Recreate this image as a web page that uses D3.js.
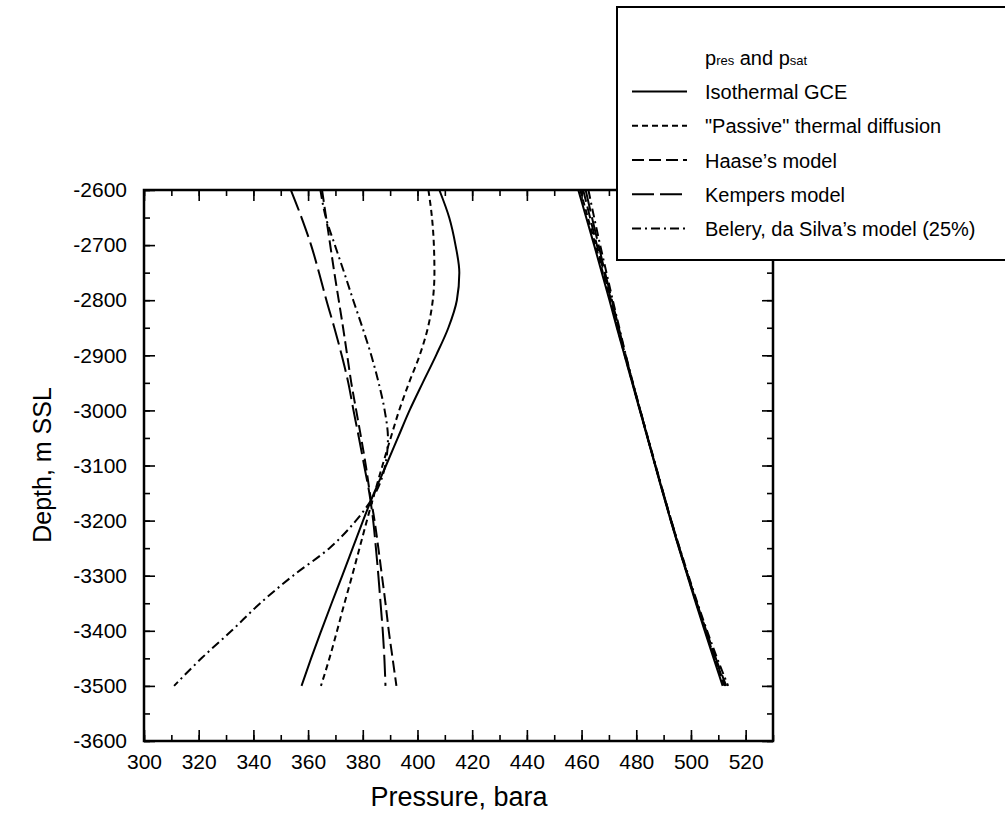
<!DOCTYPE html>
<html>
<head>
<meta charset="utf-8">
<script src="https://cdn.jsdelivr.net/npm/d3@7"></script>
<style>
  html, body { margin: 0; padding: 0; background: #fff; }
  svg { display: block; font-family: "Liberation Sans", Arial, Helvetica, sans-serif; }
</style>
</head>
<body>
<svg id="chart" width="1005" height="838"></svg>
<script>
// Depth levels (m SSL) shared by every profile
const depths = [-2600, -2650, -2700, -2750, -2800, -2850, -2900, -2950, -3000, -3050,
                -3100, -3150, -3200, -3250, -3300, -3350, -3400, -3450, -3500];

// Reservoir pressure profiles, bara
const presIsothermal = [408, 411.6, 413.9, 415.3, 414.4, 411.3, 406.8, 401.9, 397.1, 392.8,
                        388.5, 384.1, 380.1, 376.3, 372.5, 368.6, 364.8, 361.1, 357.6];
const presPassive    = [404, 405.3, 406, 406.2, 405.6, 403.8, 400.8, 396.9, 393.3, 390.2,
                        387.2, 384.3, 381.5, 378.8, 376.1, 373.3, 370.6, 367.8, 364.7];
const presHaase      = [365.1, 366.6, 368.1, 369.6, 371.2, 372.8, 374.3, 375.8, 377.6, 379.4,
                        381.1, 382.6, 384.3, 385.7, 387, 388.3, 389.5, 390.9, 392.3];
const presKempers    = [353.7, 357.6, 361.1, 364, 366.7, 369.6, 372.3, 374.7, 376.6, 378.6,
                        380.5, 382.4, 383.8, 384.8, 385.7, 386.5, 387.3, 387.9, 388.3];
const presBelery     = [364.5, 366.5, 369.8, 373.2, 376.5, 379.9, 383.1, 385.8, 388, 389.2,
                        388.2, 384.6, 377.5, 367.8, 354.5, 342.5, 332, 321, 311];

// Saturation pressure profiles, bara
const psatIsothermal = [458.8, 461.7, 464.6, 467.4, 470.2, 472.9, 475.7, 478.5, 481.3, 484.1,
                        486.9, 489.7, 492.6, 495.6, 498.7, 501.8, 505, 508.3, 511.6];
const psatPassive    = [459.5, 462.3, 465.1, 467.8, 470.5, 473.1, 475.8, 478.6, 481.4, 484.2,
                        487, 489.8, 492.7, 495.7, 498.8, 502, 505.3, 508.7, 512.2];
const psatHaase      = [460.6, 463.1, 465.6, 468.2, 470.8, 473.4, 476, 478.7, 481.4, 484.2,
                        487, 489.8, 492.7, 495.7, 498.9, 502.1, 505.4, 508.9, 512.5];
const psatKempers    = [461.5, 463.8, 466.2, 468.6, 471.1, 473.6, 476.1, 478.7, 481.5, 484.2,
                        487, 489.9, 492.8, 495.8, 498.9, 502.2, 505.6, 509.1, 512.9];
const psatBelery     = [462.5, 464.6, 466.8, 469.1, 471.4, 473.8, 476.2, 478.8, 481.5, 484.3,
                        487.1, 489.9, 492.8, 495.9, 499.1, 502.4, 505.9, 509.6, 513.6];

// Model names and tick values
const modelNames = ["Isothermal GCE", "\"Passive\" thermal diffusion", "Haase\u2019s model",
                    "Kempers model", "Belery, da Silva\u2019s model (25%)"];
const xMajorTicks = [300, 320, 340, 360, 380, 400, 420, 440, 460, 480, 500, 520];
const yMajorTicks = [-3600, -3500, -3400, -3300, -3200, -3100, -3000, -2900, -2800, -2700, -2600];

const models = [
  { name: modelNames[0], pres: presIsothermal, psat: psatIsothermal, dash: null },
  { name: modelNames[1], pres: presPassive,    psat: psatPassive,    dash: "6,4" },
  { name: modelNames[2], pres: presHaase,      psat: psatHaase,      dash: "12,5" },
  { name: modelNames[3], pres: presKempers,    psat: psatKempers,    dash: "22,6" },
  { name: modelNames[4], pres: presBelery,     psat: psatBelery,     dash: "9,4,2,4" }
];

const svg = d3.select("#chart");
const plot = { left: 144, right: 773, top: 190, bottom: 741 };

const x = d3.scaleLinear().domain([300, 530]).range([plot.left, plot.right]);
const y = d3.scaleLinear().domain([-3600, -2600]).range([plot.bottom, plot.top]);

const xMinorTicks = d3.range(300, 531, 10);
const yMinorTicks = d3.range(-3600, -2599, 50);

// Axes: ticks point inward on all four sides; labels use a plain hyphen
function addAxis(axisFn, scale, ticks, size, transform, labelled, padding) {
  const ax = axisFn(scale).tickValues(ticks).tickSizeInner(-size).tickSizeOuter(0)
    .tickPadding(padding || 0)
    .tickFormat(labelled ? (d => String(d)) : "");
  const g = svg.append("g").attr("transform", transform).call(ax);
  g.select(".domain").remove();
  g.selectAll(".tick line").attr("stroke", "#000").attr("stroke-width", 1.6);
  g.selectAll(".tick text").attr("fill", "#000").style("font-size", "21px")
    .style("font-family", "\"Liberation Sans\", Arial, sans-serif");
  return g;
}
// bottom
addAxis(d3.axisBottom, x, xMinorTicks, 6, `translate(0,${plot.bottom})`, false);
addAxis(d3.axisBottom, x, xMajorTicks, 11, `translate(0,${plot.bottom})`, true, 13);
// top
addAxis(d3.axisTop, x, xMinorTicks, 6, `translate(0,${plot.top})`, false);
addAxis(d3.axisTop, x, xMajorTicks, 11, `translate(0,${plot.top})`, false);
// left
addAxis(d3.axisLeft, y, yMinorTicks, 6, `translate(${plot.left},0)`, false);
addAxis(d3.axisLeft, y, yMajorTicks, 11, `translate(${plot.left},0)`, true, 17);
// right
addAxis(d3.axisRight, y, yMinorTicks, 6, `translate(${plot.right},0)`, false);
addAxis(d3.axisRight, y, yMajorTicks, 11, `translate(${plot.right},0)`, false);

// Plot frame
svg.append("rect")
  .attr("x", plot.left).attr("y", plot.top)
  .attr("width", plot.right - plot.left).attr("height", plot.bottom - plot.top)
  .attr("fill", "none").attr("stroke", "#000").attr("stroke-width", 2.5);

// Profiles
const line = d3.line()
  .x(d => x(d[0]))
  .y(d => y(d[1]))
  .curve(d3.curveMonotoneY);

const curves = svg.append("g");
models.forEach(m => {
  ["pres", "psat"].forEach(key => {
    const pts = depths.map((dep, i) => [m[key][i], dep]);
    curves.append("path")
      .attr("d", line(pts))
      .attr("fill", "none")
      .attr("stroke", "#000")
      .attr("stroke-width", 2)
      .attr("stroke-dasharray", m.dash);
  });
});

// Axis titles
svg.append("text")
  .attr("x", 459).attr("y", 806)
  .attr("text-anchor", "middle")
  .style("font-size", "27px")
  .text("Pressure, bara");

svg.append("text")
  .attr("transform", "translate(51,465) rotate(-90)")
  .attr("text-anchor", "middle")
  .style("font-size", "25px")
  .text("Depth, m SSL");

// Legend
const legend = svg.append("g");
legend.append("rect")
  .attr("x", 617).attr("y", 7)
  .attr("width", 400).attr("height", 253)
  .attr("fill", "#fff").attr("stroke", "#000").attr("stroke-width", 2);

const title = legend.append("text")
  .attr("x", 705).attr("y", 65)
  .style("font-size", "20px");
title.append("tspan").text("p");
title.append("tspan").style("font-size", "13px").text("res");
title.append("tspan").text(" and p");
title.append("tspan").style("font-size", "13px").text("sat");

models.forEach((m, i) => {
  const base = 99 + i * 34.25;
  legend.append("line")
    .attr("x1", 632).attr("x2", 687)
    .attr("y1", base - 7.5).attr("y2", base - 7.5)
    .attr("stroke", "#000").attr("stroke-width", 2)
    .attr("stroke-dasharray", m.dash);
  legend.append("text")
    .attr("x", 705).attr("y", base)
    .style("font-size", "20px")
    .text(m.name);
});
</script>
</body>
</html>
